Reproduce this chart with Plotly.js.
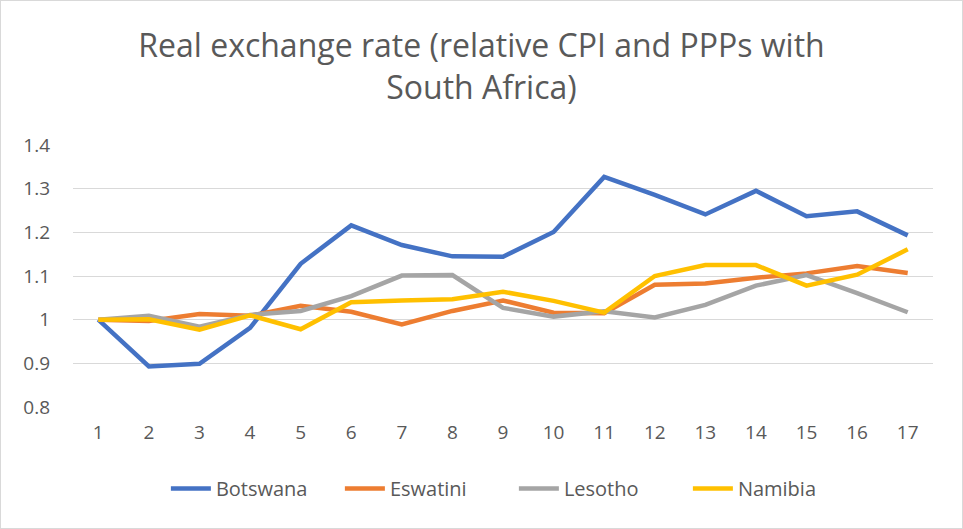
<!DOCTYPE html>
<html><head><meta charset="utf-8">
<script src="https://cdn.plot.ly/plotly-3.0.1.min.js"></script>
<style>html,body{margin:0;padding:0;background:#fff}#chart{width:961px;height:527px;border:1px solid #d9d9d9}</style>
</head><body><div id="chart"></div>
<script>
var categories = ["1","2","3","4","5","6","7","8","9","10","11","12","13","14","15","16","17"];
var botswana = [1.000,0.893,0.899,0.981,1.128,1.216,1.171,1.145,1.144,1.201,1.327,1.286,1.241,1.295,1.237,1.248,1.193];
var eswatini = [1.000,0.997,1.013,1.009,1.032,1.018,0.989,1.020,1.044,1.016,1.015,1.080,1.083,1.096,1.106,1.123,1.107];
var lesotho  = [1.000,1.009,0.984,1.011,1.020,1.054,1.101,1.102,1.027,1.007,1.019,1.005,1.034,1.078,1.102,1.061,1.017];
var namibia  = [1.000,1.001,0.977,1.010,0.978,1.040,1.044,1.047,1.064,1.043,1.016,1.100,1.125,1.125,1.078,1.103,1.161];
var names = ["Botswana","Eswatini","Lesotho","Namibia"];
var colors = ["#4472C4","#ED7D31","#A5A5A5","#FFC000"];
var series = [botswana, eswatini, lesotho, namibia];
var traces = series.map(function(s,i){
  return {x: categories, y: s, type:"scatter", mode:"lines", name: names[i],
    line:{color: colors[i], width:4.5}};
});
var layout = {
  width:961, height:527,
  margin:{l:72,r:29,t:144,b:121},
  paper_bgcolor:"#fff", plot_bgcolor:"#fff",
  font:{family:"Open Sans, sans-serif", color:"#595959", size:19},
  title:{text:"Real exchange rate (relative CPI and PPPs with<br>South Africa)", font:{size:32, color:"#595959", family:"Open Sans, sans-serif"}, x:0.5, xanchor:"center", yref:"container", y:0.893, yanchor:"top"},
  xaxis:{type:"category", range:[-0.5,16.5], showgrid:false, zeroline:false, showline:false, ticks:"", tickfont:{size:19,color:"#595959"}, ticklabelstandoff:12},
  yaxis:{range:[0.8,1.4], dtick:0.1, tick0:0.8, showgrid:true, gridcolor:"#d9d9d9", gridwidth:1.3, zeroline:false, showline:false, ticks:"", tickfont:{size:19,color:"#595959"}, ticklabelstandoff:22},
  showlegend:true,
  legend:{orientation:"h", x:0.108, xanchor:"left", y:-0.237, yanchor:"top", font:{size:20,color:"#595959"}, itemwidth:40, entrywidth:119, entrywidthmode:"pixels", tracegroupgap:0}
};
Plotly.newPlot("chart", traces, layout, {displayModeBar:false});
</script></body></html>
